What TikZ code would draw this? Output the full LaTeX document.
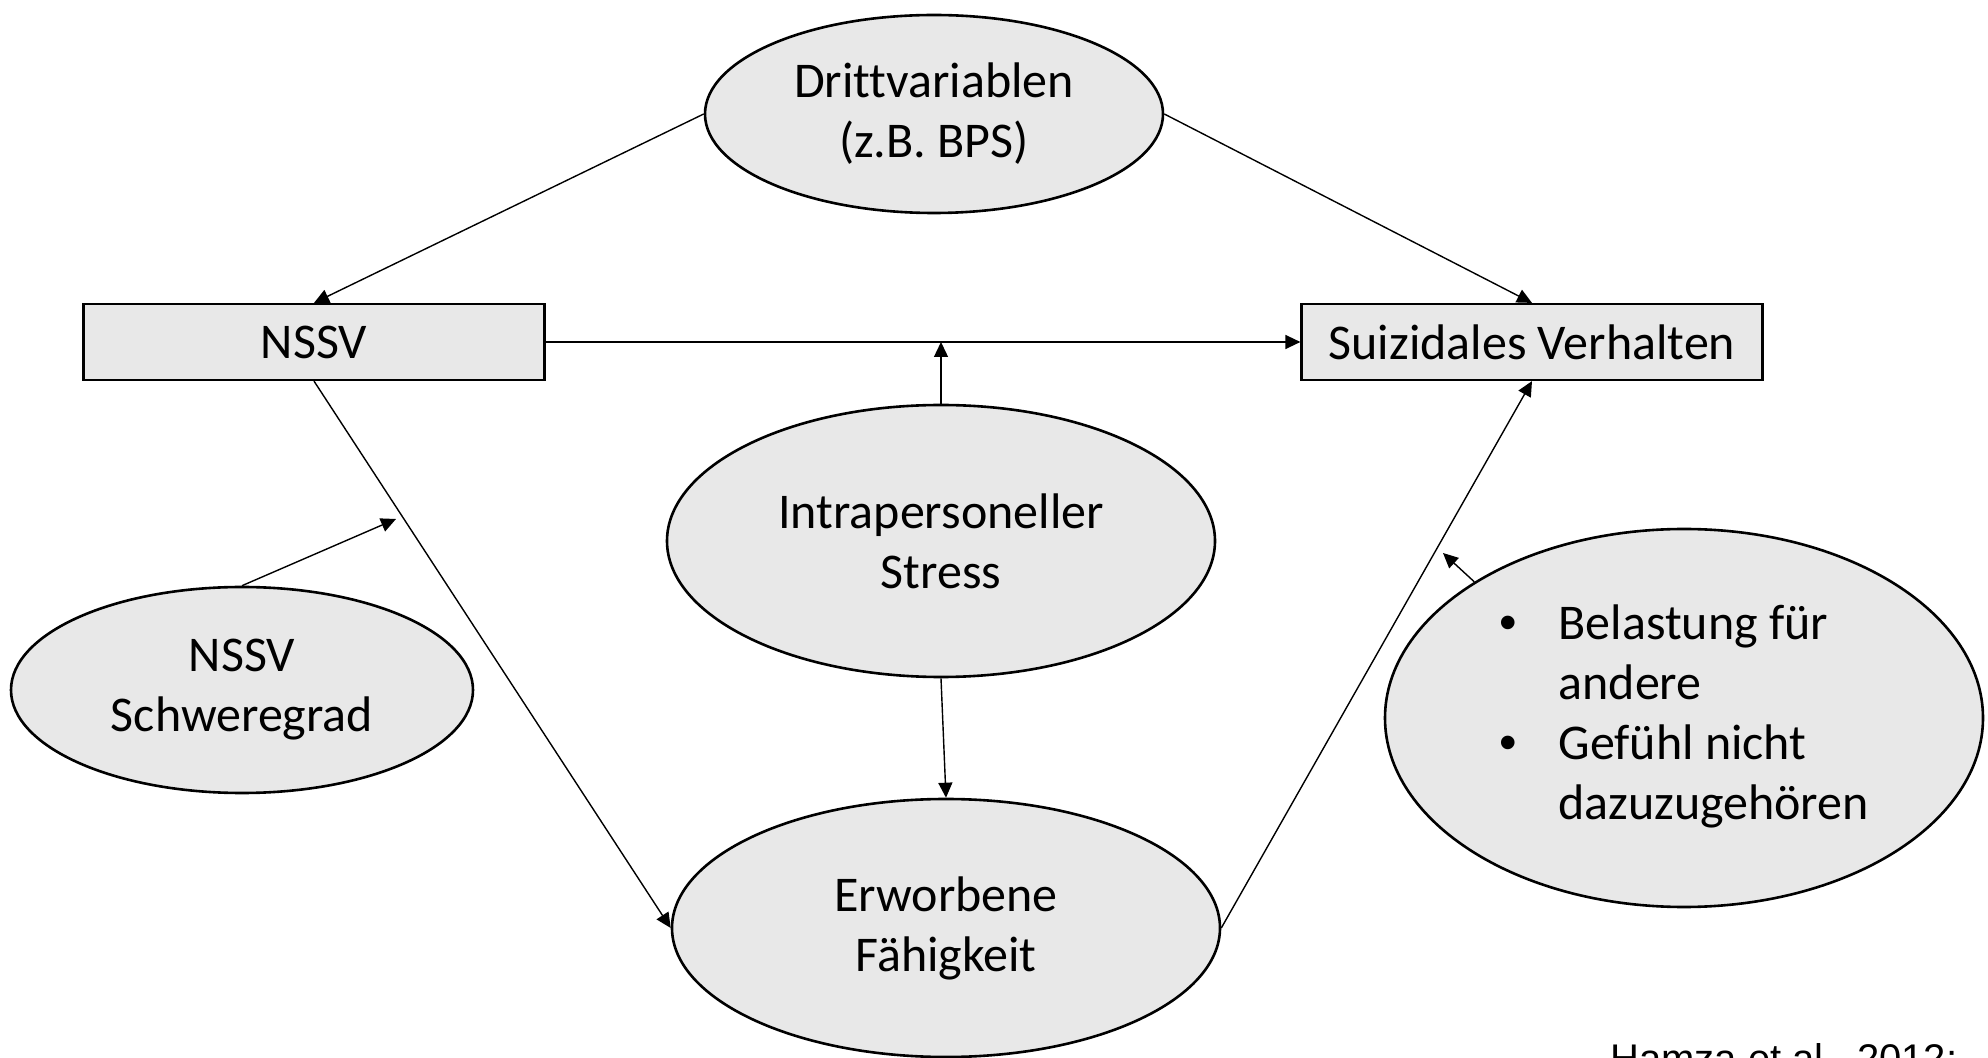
\documentclass[tikz,border=0pt]{standalone}
\usepackage{fontspec}
\setmainfont{Carlito}[Ligatures={NoCommon}]
\newfontfamily\quellenfont{Liberation Sans}
\usetikzlibrary{shapes.geometric,arrows.meta}
\definecolor{feldgrau}{RGB}{232,232,232}
\begin{document}
\begin{tikzpicture}[x=0.5pt, y=-0.5pt,
	font=\fontsize{25}{30}\selectfont,
	ell/.style={ellipse, draw, line width=1.3pt, fill=feldgrau, align=center, inner sep=0pt},
	kasten/.style={rectangle, draw, line width=1.1pt, fill=feldgrau, minimum width=230.5pt, minimum height=38pt},
	pfeil/.style={-{Triangle[length=7.5pt,width=7pt]}, line width=0.7pt}]
			\useasboundingbox (0,0) rectangle (1988,1058);
			\clip (0,0) rectangle (1988,1058);
			\node[ell, minimum width=229pt, minimum height=99pt] (dritt) at (934,114) {Drittvariablen\\(z.B. BPS)};
			\node[kasten] (nssv) at (314,342) {NSSV};
			\node[kasten] (suiz) at (1532,342) {Suizidales Verhalten};
			\node[ell, minimum width=274pt, minimum height=136pt] (intra) at (941,541) {Intrapersoneller\\Stress};
			\node[ell, minimum width=274pt, minimum height=129pt] (erw) at (946,928) {Erworbene\\Fähigkeit};
			\node[ell, minimum width=231pt, minimum height=103pt] (schwere) at (242,690) {NSSV\\Schweregrad};
			\node[ell, minimum width=299pt, minimum height=189pt] (bel) at (1684,718) {%
				\begin{tabular}{@{}c@{\hspace{21pt}}l@{}}
					{\quellenfont •} & Belastung für\\
					  & andere\\
					{\quellenfont •} & Gefühl nicht\\
					  & dazuzugehören
				\end{tabular}};
			\node[anchor=north west, inner sep=0pt, font=\quellenfont\fontsize{20}{24}\selectfont] (quelle) at (1610,1043) {Hamza et al., 2012;};
			\coordinate (mitte) at (941,342);
			\coordinate (schwereziel) at (396,519);
			\coordinate (belziel) at (1443,553);
			\draw[pfeil] (dritt.west) -- (nssv.north);
			\draw[pfeil] (dritt.east) -- (suiz.north);
			\draw[pfeil] (nssv.east) -- (suiz.west);
			\draw[pfeil] (intra.north) -- (mitte);
			\draw[pfeil] (intra.south) -- (erw.north);
			\draw[pfeil] (nssv.south) -- (erw.west);
			\draw[pfeil] (erw.east) -- (suiz.south);
			\draw[pfeil] (schwere.north) -- (schwereziel);
			\draw[pfeil] (bel.147) -- (belziel);
\end{tikzpicture}
\end{document}
